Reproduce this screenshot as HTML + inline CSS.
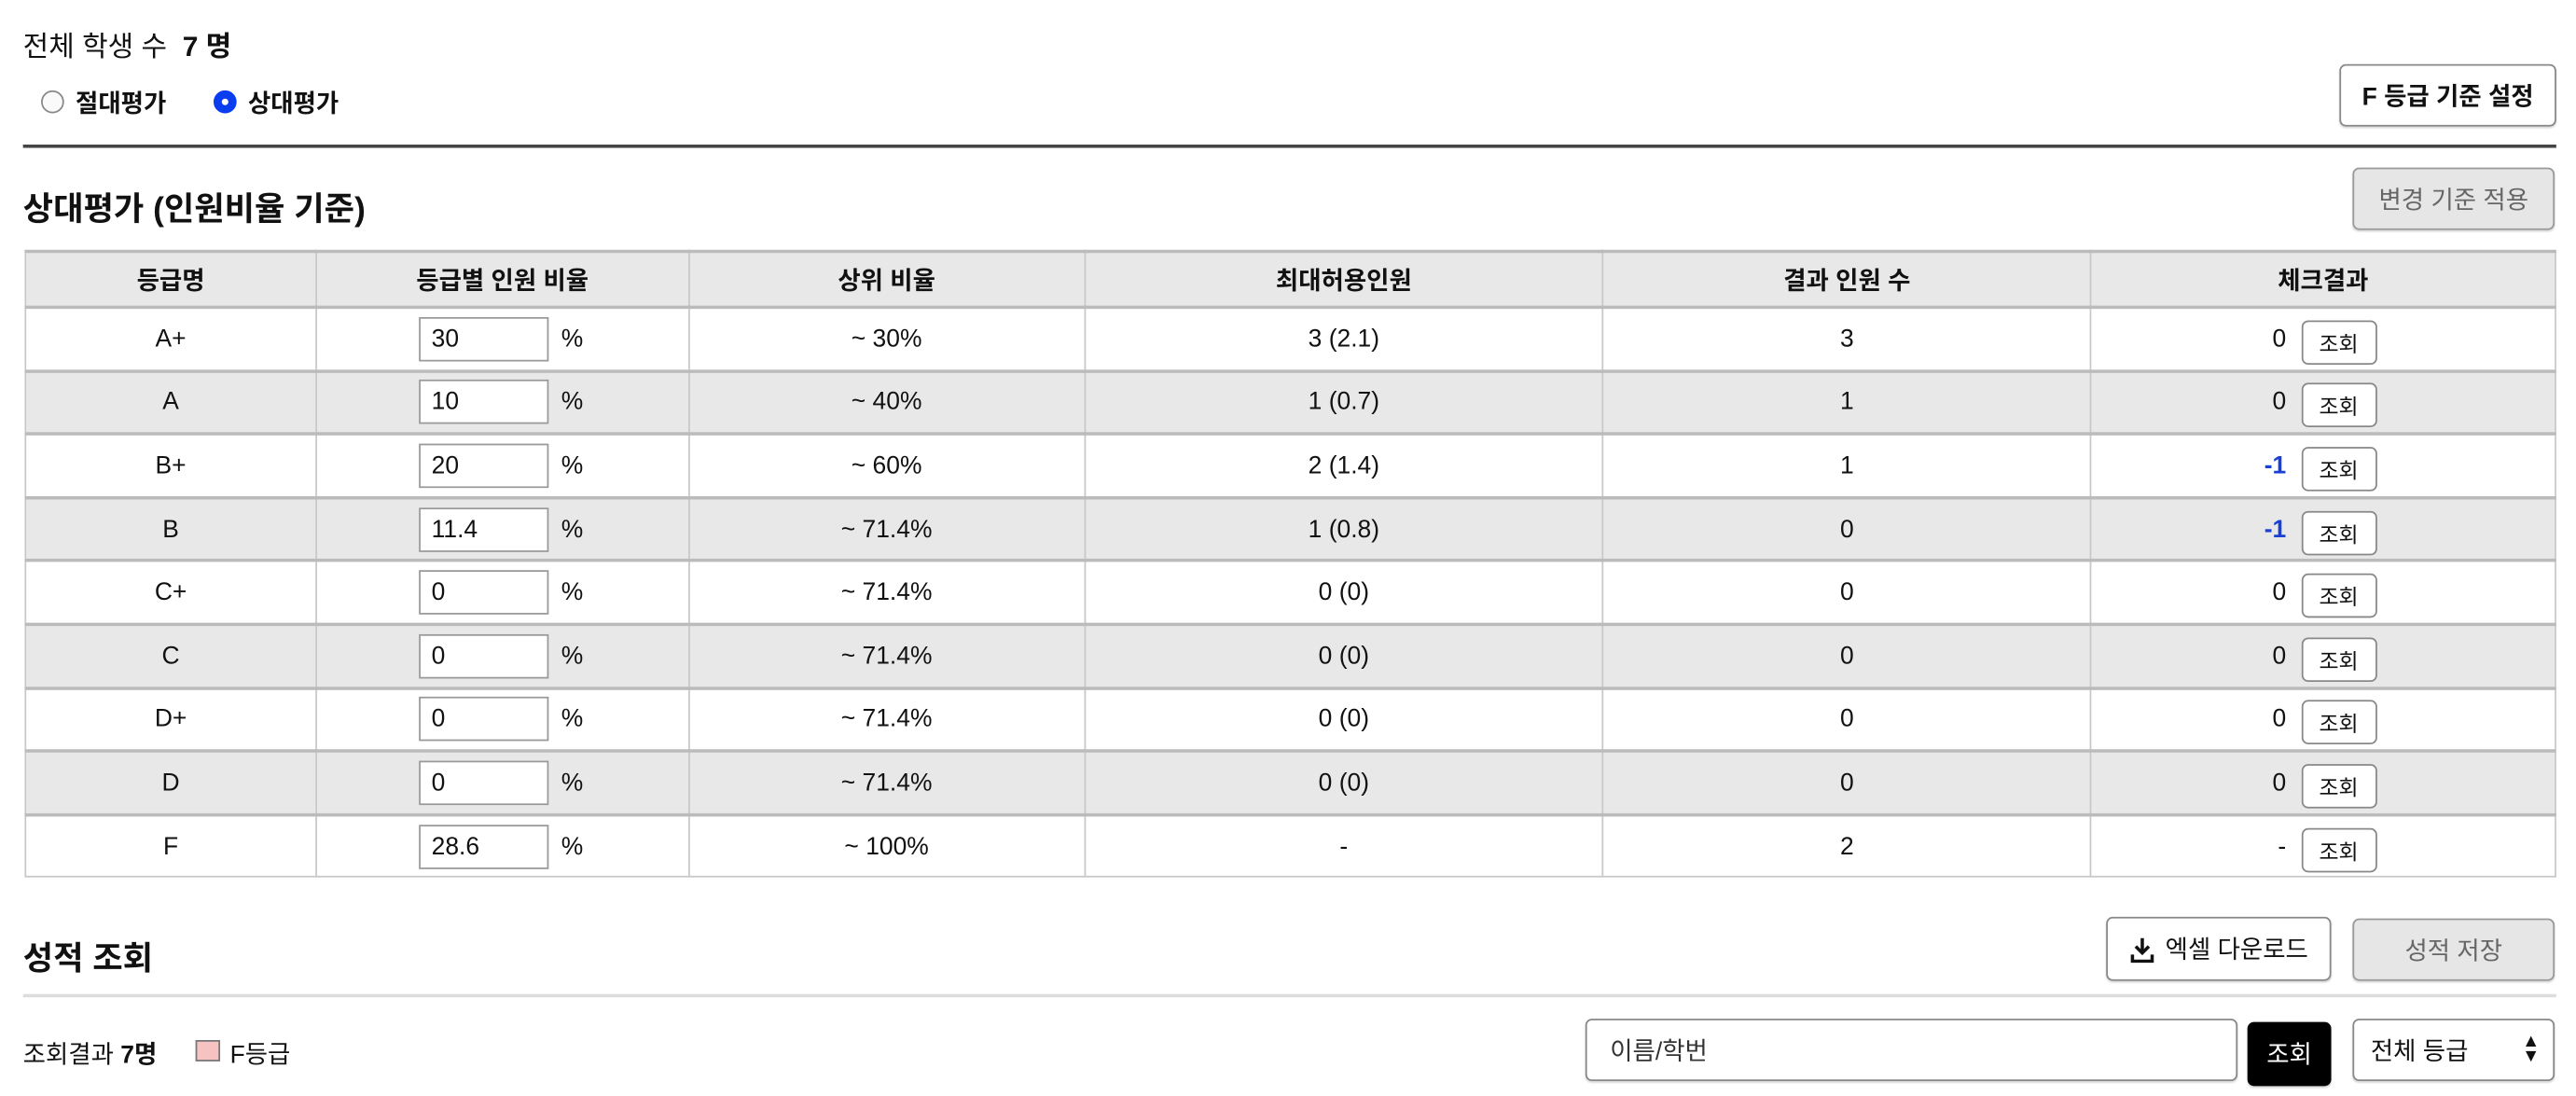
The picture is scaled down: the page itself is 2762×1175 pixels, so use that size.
<!DOCTYPE html>
<html><head><meta charset="utf-8">
<style>
html,body{margin:0;padding:0;background:#fff;}
body{width:2762px;height:1175px;overflow:hidden;}
#wrap{position:absolute;left:0;top:0;width:1568px;height:667px;transform:scale(1.76148);transform-origin:0 0;font-family:"Liberation Sans","Noto Sans CJK KR",sans-serif;color:#111;}
.abs{position:absolute;}
.btn{position:absolute;box-sizing:border-box;border:1px solid #888;border-radius:4px;background:#fff;font-size:15px;display:flex;align-items:center;justify-content:center;box-shadow:0 1px 1px rgba(0,0,0,.15);}
.gray{background:#e6e6e6;color:#666;border-color:#999;}
table{position:absolute;left:15px;top:152px;width:1541px;border-collapse:collapse;font-size:15px;}
td,th{border:1px solid #c8c8c8;text-align:center;padding:0;height:36.6px;}
th{background:#e8e8e8;font-weight:bold;height:32px;}
tr{border-top:2px solid #bbb;}
tr.g td{background:#e8e8e8;}
.inp{display:inline-block;box-sizing:border-box;width:79px;height:27px;border:1px solid #999;background:#fff;text-align:left;padding-left:7px;line-height:25px;vertical-align:middle;margin-left:-2px;}
.pct{margin-left:8px;vertical-align:middle;}
td.ck{padding-right:26px;}
.chk{display:inline-block;width:36px;text-align:right;margin-right:9px;vertical-align:middle;}
.blue{color:#1a3fd6;font-weight:bold;}
.sb{display:inline-block;box-sizing:border-box;width:46px;height:27px;border:1px solid #888;border-radius:4px;background:#fff;font-size:13px;line-height:27px;text-align:center;vertical-align:middle;margin-top:4px;}
.radio{position:absolute;width:14px;height:14px;border-radius:50%;box-sizing:border-box;}
</style></head>
<body>
<div id="wrap">
<div class="abs" style="left:14px;top:14px;font-size:17px;">전체 학생 수 &nbsp;<b>7 명</b></div>
<div class="radio" style="left:25px;top:55px;border:1px solid #888;background:#fafafa;"></div>
<div class="abs" style="left:46px;top:52px;font-size:15px;font-weight:bold;">절대평가</div>
<div class="radio" style="left:130px;top:55px;background:#0a3cf0;border:4px solid #0a3cf0;"><div style="width:4px;height:4px;background:#fff;border-radius:50%;margin:1px;"></div></div>
<div class="abs" style="left:151px;top:52px;font-size:15px;font-weight:bold;">상대평가</div>
<div class="btn" style="left:1424px;top:39px;width:132px;height:38px;font-weight:bold;">F 등급 기준 설정</div>
<div class="abs" style="left:14px;top:88px;width:1542px;height:2px;background:#444;"></div>
<div class="abs" style="left:14px;top:111px;font-size:20px;font-weight:bold;">상대평가 (인원비율 기준)</div>
<div class="btn gray" style="left:1432px;top:102px;width:123px;height:38px;">변경 기준 적용</div>
<table>
<colgroup><col style="width:177px"><col style="width:227px"><col style="width:241px"><col style="width:316px"><col style="width:297px"><col style="width:283px"></colgroup>
<tr><th>등급명</th><th>등급별 인원 비율</th><th>상위 비율</th><th>최대허용인원</th><th>결과 인원 수</th><th>체크결과</th></tr>
<tr><td>A+</td><td><span class="inp">30</span><span class="pct">%</span></td><td>~ 30%</td><td>3 (2.1)</td><td>3</td><td class="ck"><span class="chk">0</span><span class="sb">조회</span></td></tr>
<tr class="g"><td>A</td><td><span class="inp">10</span><span class="pct">%</span></td><td>~ 40%</td><td>1 (0.7)</td><td>1</td><td class="ck"><span class="chk">0</span><span class="sb">조회</span></td></tr>
<tr><td>B+</td><td><span class="inp">20</span><span class="pct">%</span></td><td>~ 60%</td><td>2 (1.4)</td><td>1</td><td class="ck"><span class="chk blue">-1</span><span class="sb">조회</span></td></tr>
<tr class="g"><td>B</td><td><span class="inp">11.4</span><span class="pct">%</span></td><td>~ 71.4%</td><td>1 (0.8)</td><td>0</td><td class="ck"><span class="chk blue">-1</span><span class="sb">조회</span></td></tr>
<tr><td>C+</td><td><span class="inp">0</span><span class="pct">%</span></td><td>~ 71.4%</td><td>0 (0)</td><td>0</td><td class="ck"><span class="chk">0</span><span class="sb">조회</span></td></tr>
<tr class="g"><td>C</td><td><span class="inp">0</span><span class="pct">%</span></td><td>~ 71.4%</td><td>0 (0)</td><td>0</td><td class="ck"><span class="chk">0</span><span class="sb">조회</span></td></tr>
<tr><td>D+</td><td><span class="inp">0</span><span class="pct">%</span></td><td>~ 71.4%</td><td>0 (0)</td><td>0</td><td class="ck"><span class="chk">0</span><span class="sb">조회</span></td></tr>
<tr class="g"><td>D</td><td><span class="inp">0</span><span class="pct">%</span></td><td>~ 71.4%</td><td>0 (0)</td><td>0</td><td class="ck"><span class="chk">0</span><span class="sb">조회</span></td></tr>
<tr><td>F</td><td><span class="inp">28.6</span><span class="pct">%</span></td><td>~ 100%</td><td>-</td><td>2</td><td class="ck"><span class="chk">-</span><span class="sb">조회</span></td></tr>
</table>
<div class="abs" style="left:14px;top:567px;font-size:20px;font-weight:bold;">성적 조회</div>
<div class="btn" style="left:1282px;top:558px;width:137px;height:39px;"><svg width="16" height="16" viewBox="0 0 16 16" style="margin-right:6px"><path d="M8 1v9M4 6l4 4 4-4M2 11v4h12v-4" fill="none" stroke="#111" stroke-width="2"/></svg>엑셀 다운로드</div>
<div class="btn gray" style="left:1432px;top:559px;width:123px;height:38px;">성적 저장</div>
<div class="abs" style="left:14px;top:605px;width:1542px;height:2px;background:#ddd;"></div>
<div class="abs" style="left:14px;top:631px;font-size:15px;">조회결과 <b>7명</b></div>
<div class="abs" style="left:119px;top:633px;width:15px;height:13px;background:#f7c2c2;border:1px solid #777;box-sizing:border-box;"></div>
<div class="abs" style="left:140px;top:631px;font-size:15px;">F등급</div>
<div class="btn" style="left:965px;top:620px;width:397px;height:38px;justify-content:flex-start;padding-left:14px;color:#333;">이름/학번</div>
<div class="btn" style="left:1368px;top:622px;width:51px;height:39px;background:#000;color:#fff;border-color:#000;">조회</div>
<div class="btn" style="left:1432px;top:620px;width:123px;height:38px;justify-content:space-between;padding:0 8px 0 10px;">전체 등급<span style="font-size:11px;line-height:9px;text-align:center">▲<br>▼</span></div>
</div>
</body></html>
